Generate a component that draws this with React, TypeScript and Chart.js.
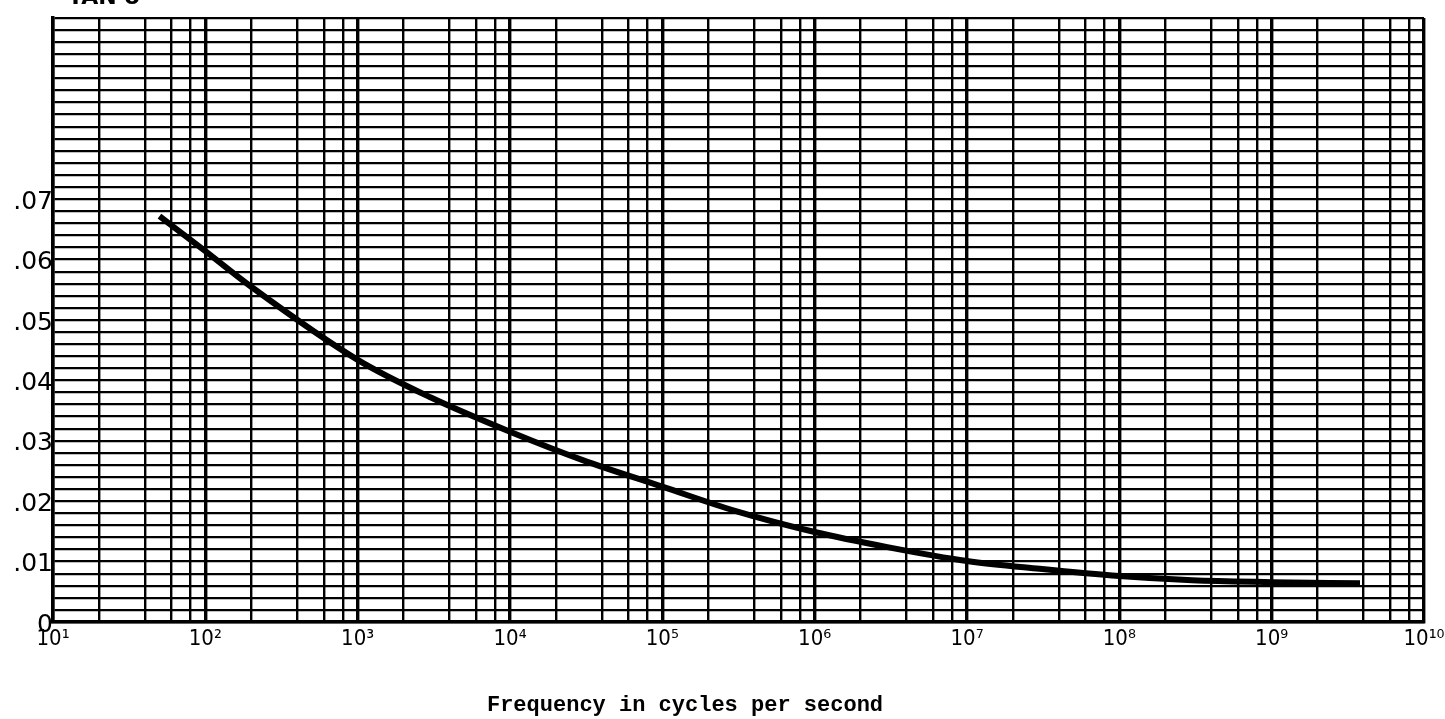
import React, { useEffect, useRef } from "react";
import { Chart, registerables } from "chart.js";

Chart.register(...registerables);

const frequencies = [50, 100, 200, 1e3, 3e3, 1e4, 3e4, 1e5, 3e5, 1e6, 3e6, 1e7, 3e7, 1e8, 3e8, 1e9, 3.8e9];
const tanDelta = [0.0672, 0.0614, 0.0555, 0.0434, 0.0372, 0.0315, 0.0268, 0.0224, 0.0184, 0.0149, 0.0124, 0.0101, 0.0088, 0.0076, 0.0069, 0.0066, 0.0064];
const decadeExponents = [1, 2, 3, 4, 5, 6, 7, 8, 9, 10];
const minorMultipliers = [2, 4, 6, 8];
const yLabelValues = [0, 0.01, 0.02, 0.03, 0.04, 0.05, 0.06, 0.07];
const yLabelTexts = ["0", ".01", ".02", ".03", ".04", ".05", ".06", ".07"];
const xTitle = "Frequency in cycles per second";
const topTitle = "TAN δ";

const SUP = ["⁰", "¹", "²", "³", "⁴", "⁵", "⁶", "⁷", "⁸", "⁹"];
const sup = (n: number) => String(n).split("").map((d) => SUP[+d]).join("");

const isDecade = (v: number) => {
  const e = Math.log10(v);
  return Math.abs(e - Math.round(e)) < 1e-9;
};

export default function App() {
  const ref = useRef<HTMLCanvasElement | null>(null);
  useEffect(() => {
    if (!ref.current) return;
    const textPlugin = {
      id: "texts",
      afterDraw(chart: any) {
        const ctx = chart.ctx;
        ctx.save();
        ctx.fillStyle = "#000";
        ctx.font = "bold 22px 'Liberation Mono', monospace";
        ctx.textAlign = "center";
        ctx.textBaseline = "alphabetic";
        ctx.fillText(xTitle, 685, 711);
        ctx.font = "bold 22px 'DejaVu Sans', sans-serif";
        ctx.textAlign = "left";
        ctx.fillText(topTitle, 68, 4);
        ctx.restore();
      },
    };
    const chart = new Chart(ref.current, {
      type: "line",
      data: {
        datasets: [
          {
            data: frequencies.map((f, i) => ({ x: f, y: tanDelta[i] })),
            borderColor: "#000",
            borderWidth: 6,
            pointRadius: 0,
            cubicInterpolationMode: "monotone",
            fill: false,
          },
        ],
      },
      options: {
        animation: false,
        responsive: true,
        maintainAspectRatio: false,
        layout: { padding: { left: 0, top: 18, right: 21, bottom: 0 } },
        plugins: { legend: { display: false }, tooltip: { enabled: false } },
        scales: {
          x: {
            type: "logarithmic",
            min: 10,
            max: 1e10,
            afterBuildTicks: (scale: any) => {
              const ticks: any[] = [];
              decadeExponents.forEach((e) => {
                ticks.push({ value: Math.pow(10, e) });
                if (e < 10) minorMultipliers.forEach((m) => ticks.push({ value: m * Math.pow(10, e) }));
              });
              ticks.sort((a, b) => a.value - b.value);
              scale.ticks = ticks;
            },
            afterFit: (scale: any) => {
              scale.height = 97;
              scale.paddingLeft = 0;
              scale.paddingRight = 0;
            },
            ticks: {
              autoSkip: false,
              maxRotation: 0,
              padding: 4,
              color: "#000",
              font: { family: "'DejaVu Sans Condensed', 'DejaVu Sans', sans-serif", size: 22 },
              callback: (value: any) => {
                const v = Number(value);
                if (!isDecade(v)) return "";
                return "10" + sup(Math.round(Math.log10(v)));
              },
            },
            grid: {
              drawTicks: false,
              color: "#000",
              lineWidth: (ctx: any) => (ctx.tick && isDecade(ctx.tick.value) ? 3.4 : 2.4),
            },
            border: { display: true, color: "#000", width: 3.5 },
          },
          y: {
            type: "linear",
            min: 0,
            max: 0.1,
            afterBuildTicks: (scale: any) => {
              const ticks: any[] = [];
              for (let k = 0; k <= 50; k++) ticks.push({ value: k * 0.002 });
              scale.ticks = ticks;
            },
            afterFit: (scale: any) => {
              scale.width = 53;
              scale.paddingTop = 0;
              scale.paddingBottom = 0;
            },
            ticks: {
              autoSkip: false,
              padding: 0,
              labelOffset: 3,
              color: "#000",
              font: { family: "'DejaVu Sans', sans-serif", size: 25 },
              callback: (value: any) => {
                const v = Math.round(Number(value) * 1000);
                const idx = yLabelValues.findIndex((y) => Math.round(y * 1000) === v);
                return idx >= 0 ? yLabelTexts[idx] : "";
              },
            },
            grid: { drawTicks: false, color: "#000", lineWidth: 2.3 },
            border: { display: true, color: "#000", width: 3.5 },
          },
        },
      },
      plugins: [textPlugin],
    } as any);
    return () => chart.destroy();
  }, []);
  return (
    <div style={{ position: "fixed", left: 0, top: 0, width: 1445, height: 719, background: "#fff" }}>
      <canvas ref={ref} />
    </div>
  );
}
